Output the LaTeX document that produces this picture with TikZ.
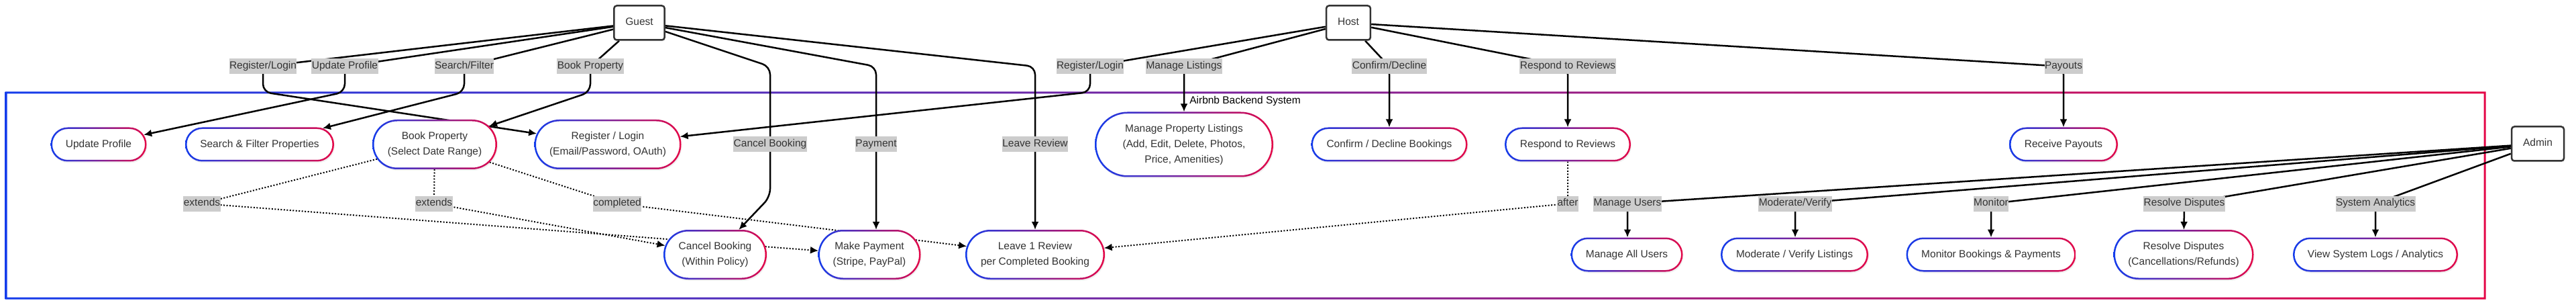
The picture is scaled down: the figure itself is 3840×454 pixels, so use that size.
\documentclass[tikz,border=0pt]{standalone}
\usepackage{fontspec}
\setmainfont{Liberation Sans}
\usetikzlibrary{shapes.misc,arrows.meta,shadows,backgrounds,calc}
\definecolor{ucblue}{RGB}{20,60,235}
\definecolor{ucred}{RGB}{228,8,72}
\definecolor{txtgray}{RGB}{51,51,51}
\definecolor{lblgray}{RGB}{204,204,204}
\newcommand{\dfont}{\fontsize{15.5}{23}\selectfont}

\begin{document}
\begin{tikzpicture}[
x=1pt, y=-1pt,
font=\dfont,
rolebox/.style={
draw=txtgray,
line width=2.5pt,
rounded corners=4pt,
fill=white,
text=txtgray,
minimum height=51pt,
inner xsep=17pt,
text height=11pt,
text depth=3.5pt,
drop shadow={shadow xshift=1pt, shadow yshift=-2pt, opacity=0.15}
},
usecase/.style={
rounded rectangle,
fill=white,
text=txtgray,
align=center,
inner sep=0pt,
outer sep=0pt,
drop shadow={shadow xshift=1pt, shadow yshift=-2pt, opacity=0.12}
},
lbl/.style={
fill=lblgray,
text=txtgray,
inner xsep=0.5pt,
inner ysep=0pt,
minimum height=23pt,
text height=11pt,
text depth=3.5pt
},
assoc/.style={
line width=2.5pt,
rounded corners=12pt,
-{Latex[length=12pt,width=11pt]}
},
dotrel/.style={
line width=2pt,
dash pattern=on 2pt off 2.5pt,
-{Latex[length=12pt,width=11pt]}
}
]

\useasboundingbox (0,0) rectangle (3840,454);

\node[rolebox] (G) at (953,34) {Guest};

\node[rolebox] (H) at (2010,34) {Host};

\node[rolebox] (A) at (3783,214) {Admin};

\node (SYS) at (1856,150) {Airbnb Backend System};

\node[usecase, minimum width=143pt, minimum height=51pt] (UP) at (147,215)
{Update Profile};

\node[usecase, minimum width=222pt, minimum height=51pt] (SF) at (387,215)
{Search \& Filter Properties};

\node[usecase, minimum width=186pt, minimum height=74pt] (BP) at (648,215)
{Book Property\\(Select Date Range)};

\node[usecase, minimum width=219pt, minimum height=74pt] (RL) at (906,215)
{Register / Login\\(Email/Password, OAuth)};

\node[usecase, minimum width=266pt, minimum height=97pt] (ML) at (1765,215)
{Manage Property Listings\\(Add, Edit, Delete, Photos,\\Price, Amenities)};

\node[usecase, minimum width=233pt, minimum height=51pt] (CD) at (2071,215)
{Confirm / Decline Bookings};

\node[usecase, minimum width=188pt, minimum height=51pt] (RR) at (2337,215)
{Respond to Reviews};

\node[usecase, minimum width=162pt, minimum height=51pt] (RP) at (3076,215)
{Receive Payouts};

\node[usecase, minimum width=154pt, minimum height=74pt] (CB) at (1066,379)
{Cancel Booking\\(Within Policy)};

\node[usecase, minimum width=153pt, minimum height=74pt] (MP) at (1296,379)
{Make Payment\\(Stripe, PayPal)};

\node[usecase, minimum width=208pt, minimum height=74pt] (LR) at (1543,379)
{Leave 1 Review\\per Completed Booking};

\node[usecase, minimum width=167pt, minimum height=51pt] (MU) at (2425,379)
{Manage All Users};

\node[usecase, minimum width=220pt, minimum height=51pt] (MV) at (2675,379)
{Moderate / Verify Listings};

\node[usecase, minimum width=253pt, minimum height=51pt] (MB) at (2968,379)
{Monitor Bookings \& Payments};

\node[usecase, minimum width=209pt, minimum height=74pt] (RD) at (3255,379)
{Resolve Disputes\\(Cancellations/Refunds)};

\node[usecase, minimum width=246pt, minimum height=51pt] (VL) at (3541,379)
{View System Logs / Analytics};

\foreach \u in {UP,SF,BP,RL,ML,CD,RR,RP,CB,MP,LR,MU,MV,MB,RD,VL}
\shade[left color=ucblue, right color=ucred, even odd rule]
let \p1=(\u.west), \p2=(\u.east), \p3=(\u.north), \p4=(\u.south),
\n1={(\y3-\y4)/2} in
[rounded corners=\n1] (\x1,\y4) rectangle (\x2,\y3)
[rounded corners=\n1-2.5pt] (\x1+2.5pt,\y4+2.5pt) rectangle (\x2-2.5pt,\y3-2.5pt);

\node[lbl] (G1) at (392,99) {Register/Login};
\node[lbl] (G2) at (514,99) {Update Profile};
\node[lbl] (G3) at (692,99) {Search/Filter};
\node[lbl] (G4) at (880,99) {Book Property};
\node[lbl] (G5) at (1148,215) {Cancel Booking};
\node[lbl] (G6) at (1306,215) {Payment};
\node[lbl] (G7) at (1543,215) {Leave Review};

\node[lbl] (H1) at (1625,99) {Register/Login};
\node[lbl] (H2) at (1765,99) {Manage Listings};
\node[lbl] (H3) at (2071,99) {Confirm/Decline};
\node[lbl] (H4) at (2337,99) {Respond to Reviews};
\node[lbl] (H5) at (3076,99) {Payouts};

\node[lbl] (A1) at (2426,303) {Manage Users};
\node[lbl] (A2) at (2676,303) {Moderate/Verify};
\node[lbl] (A3) at (2968,303) {Monitor};
\node[lbl] (A4) at (3256,303) {Resolve Disputes};
\node[lbl] (A5) at (3541,303) {System Analytics};

\node[lbl] (E1) at (301,303) {extends};
\node[lbl] (E2) at (647,303) {extends};
\node[lbl] (C1) at (920,303) {completed};
\node[lbl] (AF) at (2337,303) {after};

\begin{scope}[on background layer]
\shade[left color=ucblue, right color=ucred, even odd rule]
(7.5,136.5) rectangle (3705.5,445.5) (10.5,139.5) rectangle (3702.5,442.5);

\draw[assoc] (G) -- (G1.center) -- ++(0,38) -- (RL);
\draw[assoc] (G) -- (G2.center) -- ++(0,38) -- (UP);
\draw[assoc] (G) -- (G3.center) -- ++(0,38) -- (SF);
\draw[assoc] (G) -- (G4.center) -- ++(0,38) -- (BP);
\draw[assoc] (G) -- (G5 |- G1) -- (G5.center) -- ++(0,78) -- (CB);
\draw[assoc] (G) -- (G6 |- G1) -- (G6 |- MP.north);
\draw[assoc] (G) -- (G7 |- G1) -- (LR);

\draw[assoc] (H) -- (H1.center) -- ++(0,38) -- (RL);
\draw[assoc] (H) -- (H2.center) -- (ML);
\draw[assoc] (H) -- (H3.center) -- (CD);
\draw[assoc] (H) -- (H4.center) -- (RR);
\draw[assoc] (H) -- (H5.center) -- (RP);

\draw[assoc] (A) -- (A1.center) -- (A1 |- MU.north);
\draw[assoc] (A) -- (A2.center) -- (A2 |- MV.north);
\draw[assoc] (A) -- (A3.center) -- (MB);
\draw[assoc] (A) -- (A4.center) -- (RD);
\draw[assoc] (A) -- (A5.center) -- (VL);

\draw[dotrel] (BP) -- (E1.center) -- (MP);
\draw[dotrel] (BP) -- (E2.center) -- (CB);
\draw[dotrel] (BP) -- (C1.center) -- (LR);
\draw[dotrel] (RR) -- (AF.center) -- (LR);
\end{scope}

\end{tikzpicture}
\end{document}
